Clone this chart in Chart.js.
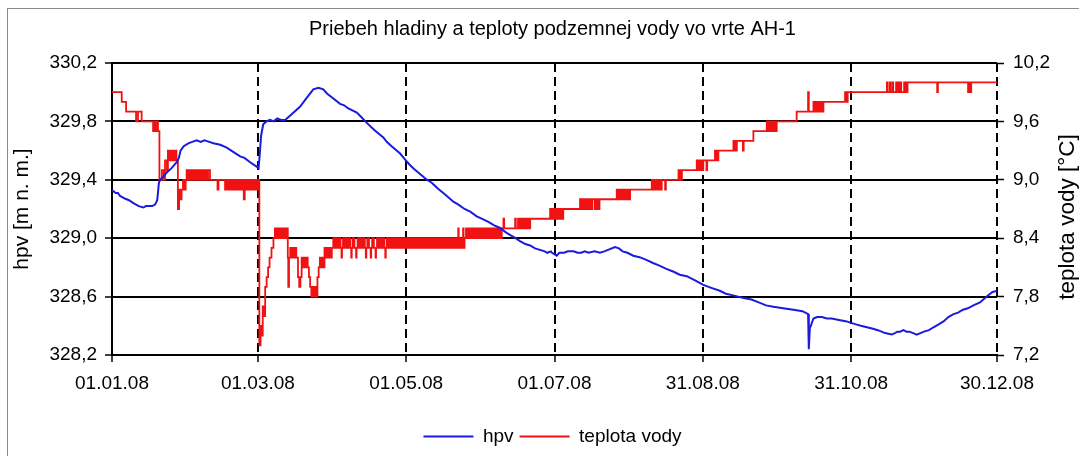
<!DOCTYPE html>
<html>
<head>
<meta charset="utf-8">
<script src="https://cdn.jsdelivr.net/npm/chart.js@4/dist/chart.umd.min.js"></script>
<style>
  html, body { margin: 0; padding: 0; background: #fff; }
  #wrap { position: relative; width: 1079px; height: 456px; overflow: hidden; }
  #frame { position: absolute; left: 7px; top: 8px; width: 1090px; height: 460px;
           border-left: 1px solid #8a8a8a; border-top: 1px solid #8a8a8a; }
  canvas { position: absolute; left: 0; top: 0; }
</style>
</head>
<body>
<div id="wrap">
  <div id="frame"></div>
  <canvas id="chart" width="1079" height="456"></canvas>
</div>
<script>
const FONT = "'Liberation Sans', Arial, sans-serif";

// texty
const chartTitle = 'Priebeh hladiny a teploty podzemnej vody vo vrte AH-1';
const leftTitle = 'hpv [m n. m.]';
const rightTitle = 'teplota vody [°C]';

// os x: dni od 01.01.08
const xTickDays = [0, 60, 121, 182, 243, 304, 364];
const xTickLabels = ['01.01.08', '01.03.08', '01.05.08', '01.07.08', '31.08.08', '31.10.08', '30.12.08'];
const hpvTicks = [328.2, 328.6, 329.0, 329.4, 329.8, 330.2];
const tempTicks = [7.2, 7.8, 8.4, 9.0, 9.6, 10.2];

// hladina podzemnej vody [den, m n. m.]
const hpvData = [
  [0, 329.33], [1.5, 329.31], [2.4, 329.31], [3.3, 329.29], [5.5, 329.27], [7, 329.26], [8.8, 329.24], [11, 329.22],
  [12.9, 329.21], [14, 329.22], [15, 329.22], [16.5, 329.22], [17.7, 329.23], [18.6, 329.26], [19.3, 329.38],
  [19.8, 329.40], [21, 329.42], [22.5, 329.45], [24.5, 329.48], [26.6, 329.52], [27.5, 329.55], [28.2, 329.60],
  [29.5, 329.63], [31.4, 329.65], [33, 329.66], [34.8, 329.67], [36.5, 329.66], [38, 329.67], [40, 329.66],
  [41.7, 329.65], [44.5, 329.64], [47.2, 329.62], [50, 329.59], [52.7, 329.56], [54.5, 329.55], [56.8, 329.52],
  [59.5, 329.49], [60.3, 329.48], [60.8, 329.58], [61.3, 329.70], [62.2, 329.78], [63.5, 329.80], [65, 329.81],
  [66.5, 329.80], [68, 329.82], [69.5, 329.81], [71.2, 329.81], [74, 329.85], [77.3, 329.90], [80, 329.96],
  [82.8, 330.02], [84.9, 330.03], [86.9, 330.02], [88.5, 329.99], [90, 329.97], [93.8, 329.92], [95.5, 329.91],
  [97, 329.89], [100.7, 329.86], [102.5, 329.83], [104.8, 329.79], [108, 329.74], [111.6, 329.69], [113, 329.66],
  [115, 329.63], [118.5, 329.58], [120.5, 329.54], [122.6, 329.50], [124.5, 329.47], [126.7, 329.44],
  [129.5, 329.40], [131.5, 329.38], [134, 329.34], [137, 329.30], [140.4, 329.25], [142.5, 329.23], [145, 329.20],
  [147.5, 329.18], [150, 329.15], [152.5, 329.13], [155, 329.11], [157, 329.09], [159.6, 329.07], [162, 329.04],
  [164, 329.02], [166, 329.00], [167.8, 328.98], [170, 328.96], [172, 328.95], [174, 328.93], [176, 328.92],
  [178, 328.91], [179, 328.90], [180.5, 328.91], [181, 328.90], [182.9, 328.88], [184, 328.90], [186, 328.90],
  [187.5, 328.91], [189.8, 328.91], [191.5, 328.90], [193, 328.90], [194.5, 328.91], [196, 328.90],
  [198.5, 328.91], [200.7, 328.90], [202.5, 328.91], [204, 328.92], [206.9, 328.94], [208.5, 328.93],
  [210, 328.91], [212, 328.90], [214.4, 328.88], [217, 328.87], [220, 328.85], [222.5, 328.83], [225.4, 328.81],
  [228, 328.79], [231, 328.77], [233.5, 328.75], [236.4, 328.74], [240, 328.71], [243.2, 328.68], [246.5, 328.66],
  [250, 328.64], [252.5, 328.62], [255, 328.61], [257.5, 328.60], [259.7, 328.59], [263, 328.58], [266, 328.56],
  [269, 328.54], [272, 328.53], [276, 328.52], [280.3, 328.51], [284, 328.50], [286.3, 328.48], [286.6, 328.24],
  [287, 328.38], [288.5, 328.45], [290, 328.46], [292, 328.46], [294, 328.45], [296, 328.45], [299, 328.44],
  [302.2, 328.43], [304, 328.42], [306, 328.41], [308, 328.40], [310.5, 328.39], [313, 328.38], [315, 328.37],
  [318, 328.35], [320.7, 328.34], [322, 328.35], [323, 328.36], [324.2, 328.36], [325.5, 328.37], [326.8, 328.36],
  [328, 328.36], [329.5, 328.35], [331, 328.34], [332.5, 328.35], [334, 328.36], [336, 328.37], [337.9, 328.39],
  [340, 328.41], [342, 328.43], [344, 328.46], [346.1, 328.48], [348, 328.49], [350, 328.51], [352, 328.52],
  [354.3, 328.54], [357, 328.56], [359.8, 328.60], [362, 328.63], [364, 328.64]
];

// teplota vody [den, °C] - schodovity zaznam po 0,1 °C
const tempData = [
  [0, 9.9], [4, 9.8], [5.8, 9.7], [9.9, 9.6], [10.7, 9.7], [12.2, 9.6],
  [16.9, 9.5], [17.4, 9.6], [17.9, 9.5], [18.4, 9.6], [18.9, 9.5],
  [19.5, 9.0], [20.5, 9.1], [21.3, 9.0], [21.8, 9.2], [22.6, 9.1], [23, 9.3], [23.5, 9.2], [24, 9.3], [24.5, 9.2],
  [25, 9.3], [25.5, 9.2], [26, 9.3], [26.5, 9.2],
  [27.1, 8.7], [27.6, 8.9], [28.1, 8.8], [28.6, 8.9], [29.2, 9.0], [29.8, 8.9], [30.3, 9.0],
  [30.7, 9.1], [31.3, 9.0], [31.8, 9.1], [32.4, 9.0], [32.9, 9.1], [33.5, 9.0], [34, 9.1], [34.6, 9.0], [35.1, 9.1],
  [35.7, 9.0], [36.2, 9.1], [36.8, 9.0], [37.3, 9.1], [37.9, 9.0], [38.4, 9.1], [39, 9.0], [39.5, 9.1], [40.3, 9.0],
  [43.4, 8.9], [43.8, 9.0],
  [46.5, 8.9], [47.1, 9.0], [47.6, 8.9], [48.2, 9.0], [48.7, 8.9], [49.3, 9.0], [49.8, 8.9], [50.4, 9.0],
  [50.9, 8.9], [51.5, 9.0], [52, 8.9], [52.6, 9.0], [53.1, 8.9], [53.7, 9.0], [54.2, 8.8], [54.6, 9.0],
  [55.2, 8.9], [55.8, 9.0], [56.3, 8.9], [56.9, 9.0], [57.4, 8.9], [58, 9.0], [58.5, 8.9], [59.1, 9.0],
  [59.6, 8.9], [60.1, 9.0],
  [60.6, 7.3], [61.1, 7.5], [61.5, 7.4], [62, 7.7], [62.5, 7.6], [63, 7.9], [63.6, 8.0], [64.2, 8.1],
  [64.8, 8.2], [65.6, 8.3], [66.4, 8.4],
  [67, 8.5], [67.5, 8.4], [68, 8.5], [68.5, 8.4], [69, 8.5], [69.5, 8.4], [70, 8.5], [70.5, 8.4], [71, 8.5],
  [71.5, 8.4], [72, 8.5],
  [72.3, 8.2], [72.5, 7.9], [72.8, 8.2], [73.3, 8.3], [73.8, 8.2], [74.3, 8.3], [74.8, 8.2], [75.3, 8.3], [75.8, 8.2],
  [76.5, 8.0], [77, 7.9], [77.5, 8.0], [78, 8.2], [78.5, 8.1], [79, 8.2], [79.5, 8.1], [80, 8.2], [80.5, 8.1],
  [81, 8.0], [81.5, 7.9], [82, 7.8], [82.5, 7.9], [83, 7.8], [83.5, 7.9], [84, 7.8], [84.5, 8.0],
  [85, 8.1], [85.5, 8.2], [86, 8.1], [86.5, 8.2], [87, 8.1],
  [87.4, 8.3], [87.9, 8.2], [88.4, 8.3], [88.9, 8.2], [89.4, 8.3], [89.9, 8.2], [90.4, 8.3],
  [91, 8.4], [91.7, 8.3], [92.3, 8.4], [93, 8.3], [93.6, 8.4], [94, 8.3], [94.4, 8.2], [94.6, 8.3], [95, 8.4],
  [95.7, 8.3], [96.3, 8.4], [97, 8.3], [97.6, 8.4], [98, 8.3], [98.4, 8.2], [98.6, 8.3], [99, 8.4], [99.7, 8.3],
  [100, 8.3], [100.4, 8.2], [100.6, 8.3], [101, 8.4], [101.7, 8.3], [102.3, 8.4], [103, 8.3], [103.6, 8.4],
  [104, 8.3], [104.4, 8.2], [104.6, 8.3], [105, 8.4], [105.7, 8.3], [106, 8.3], [106.4, 8.2], [106.6, 8.3],
  [107, 8.4], [107.7, 8.3], [108, 8.3], [108.4, 8.2], [108.6, 8.3], [109, 8.4], [109.7, 8.3], [110.3, 8.4],
  [111, 8.3], [111.6, 8.4], [112, 8.3], [112.4, 8.2], [112.6, 8.3], [113, 8.4], [113.7, 8.3], [114.3, 8.4],
  [115, 8.3], [115.6, 8.4], [116.3, 8.3], [117, 8.4], [117.7, 8.3], [118.3, 8.4], [119, 8.3], [119.6, 8.4],
  [120.3, 8.3], [121, 8.4], [121.7, 8.3], [122.3, 8.4], [123, 8.3], [123.6, 8.4], [124.3, 8.3], [125, 8.4],
  [125.7, 8.3], [126.3, 8.4], [127, 8.3], [127.6, 8.4], [128.3, 8.3], [129, 8.4], [129.7, 8.3], [130.3, 8.4],
  [131, 8.3], [131.6, 8.4], [132.3, 8.3], [133, 8.4], [133.7, 8.3], [134.3, 8.4], [135, 8.3], [135.6, 8.4],
  [136.3, 8.3], [137, 8.4], [137.7, 8.3], [138.3, 8.4], [139, 8.3], [139.6, 8.4], [140.3, 8.3], [141, 8.4],
  [141.7, 8.3], [142.4, 8.5], [142.6, 8.3], [143, 8.4], [143.7, 8.3], [144.4, 8.5], [144.6, 8.3], [145, 8.4],
  [145.6, 8.5], [146.3, 8.4], [147, 8.5], [147.7, 8.4], [148.3, 8.5], [149, 8.4], [149.6, 8.5], [150.3, 8.4],
  [151, 8.5], [151.7, 8.4], [152.3, 8.5], [153, 8.4], [153.6, 8.5], [154.3, 8.4], [155, 8.5], [155.7, 8.4],
  [156.3, 8.5], [157, 8.4], [157.6, 8.5], [158.3, 8.4], [159, 8.5], [159.7, 8.4], [160.3, 8.5],
  [161, 8.6], [161.3, 8.5], [165.8, 8.6], [166.1, 8.5],
  [167, 8.6], [167.7, 8.5], [168.3, 8.6], [169, 8.5], [169.6, 8.6], [170.3, 8.5], [171, 8.6], [171.5, 8.5], [172, 8.6],
  [180.2, 8.7], [180.9, 8.6], [181.5, 8.7], [182.2, 8.6], [182.8, 8.7], [183.5, 8.6], [184.2, 8.7], [184.9, 8.6],
  [185.6, 8.7],
  [192.5, 8.8], [193.2, 8.7], [193.8, 8.8], [194.5, 8.7], [195.2, 8.8], [195.9, 8.7], [196.6, 8.8], [197.3, 8.7],
  [197.6, 8.8], [198.6, 8.7], [199.2, 8.8], [199.9, 8.7], [200.5, 8.8],
  [207.6, 8.9], [208.3, 8.8], [208.9, 8.9], [209.6, 8.8], [210.3, 8.9], [211, 8.8], [211.7, 8.9], [212.4, 8.8],
  [213.1, 8.9],
  [222, 9.0], [222.7, 8.9], [223.3, 9.0], [224, 8.9], [224.7, 9.0], [225.4, 8.9], [226.1, 9.0],
  [227.5, 8.9], [227.8, 9.0],
  [233, 9.1], [233.7, 9.0], [234.4, 9.1],
  [240.5, 9.2], [241.2, 9.1], [241.9, 9.2], [242.6, 9.1], [243.2, 9.2], [244.5, 9.1], [244.8, 9.2],
  [248, 9.3], [248.7, 9.2], [249.4, 9.3],
  [255.6, 9.4], [256.3, 9.3], [257, 9.4], [259.5, 9.3], [259.8, 9.4],
  [263.8, 9.5],
  [269.3, 9.6], [270, 9.5], [270.7, 9.6], [271.4, 9.5], [272.1, 9.6], [272.8, 9.5], [273.4, 9.6],
  [281.6, 9.7], [286.3, 9.9], [286.6, 9.7],
  [288.5, 9.8], [289.2, 9.7], [289.9, 9.8], [290.6, 9.7], [291.3, 9.8], [292, 9.7], [292.6, 9.8],
  [301.5, 9.9], [302, 9.8], [302.6, 9.9],
  [318.7, 10.0], [319, 9.9], [319.9, 10.0], [320.2, 9.9], [321, 10.0], [321.3, 9.9],
  [322.5, 10.0], [323.2, 9.9], [323.9, 10.0], [324.6, 9.9], [325.8, 10.0], [326.5, 9.9], [327.2, 10.0],
  [339.4, 9.9], [339.7, 10.0], [352.1, 9.9], [352.4, 10.0], [353.1, 9.9], [353.4, 10.0], [364, 10.0]
];

const toPoints = arr => arr.map(([x, y]) => ({ x, y }));
const comma = v => Number(v).toFixed(1).replace('.', ',');

// nazvy osi (obe citane zdola nahor)
const axisTitles = {
  id: 'axisTitles',
  afterDraw(chart) {
    const { ctx, chartArea } = chart;
    const cy = (chartArea.top + chartArea.bottom) / 2;
    const draw = (text, x, y, size) => {
      ctx.save();
      ctx.fillStyle = '#000';
      ctx.textAlign = 'center';
      ctx.textBaseline = 'middle';
      ctx.font = size + 'px ' + FONT;
      ctx.translate(x, y);
      ctx.rotate(-Math.PI / 2);
      ctx.fillText(text, 0, 0);
      ctx.restore();
    };
    draw(leftTitle, 22, cy, 21);
    draw(rightTitle, 1068, cy + 8, 22.5);
  }
};

new Chart(document.getElementById('chart'), {
  type: 'line',
  data: {
    datasets: [
      {
        label: 'hpv',
        data: toPoints(hpvData),
        yAxisID: 'y',
        borderColor: '#1a1ae0',
        backgroundColor: '#1a1ae0',
        borderWidth: 2,
        pointRadius: 0,
        tension: 0
      },
      {
        label: 'teplota vody',
        data: toPoints(tempData),
        yAxisID: 'y2',
        borderColor: '#f01212',
        backgroundColor: '#f01212',
        borderWidth: 1.8,
        pointRadius: 0,
        stepped: true
      }
    ]
  },
  options: {
    responsive: false,
    animation: false,
    layout: { padding: { left: 26, right: 0, top: 0, bottom: 0 } },
    plugins: {
      title: {
        display: true,
        text: chartTitle,
        color: '#000',
        font: { family: FONT, size: 20, weight: 'normal' },
        padding: { top: 17, bottom: 22 }
      },
      legend: {
        position: 'bottom',
        labels: {
          color: '#000',
          font: { family: FONT, size: 19 },
          usePointStyle: true,
          pointStyle: 'line',
          pointStyleWidth: 50,
          padding: 6
        }
      },
      tooltip: { enabled: false }
    },
    scales: {
      x: {
        type: 'linear',
        min: 0,
        max: 364,
        afterBuildTicks: s => { s.ticks = xTickDays.map(v => ({ value: v })); },
        afterFit: s => { s.height = 66; },
        ticks: {
          color: '#000',
          font: { family: FONT, size: 19 },
          padding: 10,
          maxRotation: 0,
          autoSkip: false,
          callback: (v, i) => xTickLabels[i]
        },
        grid: { color: '#000', lineWidth: 2, tickLength: 7, tickColor: '#000', tickWidth: 1.5 },
        border: { display: true, color: '#000', width: 2, dash: [9, 5] }
      },
      y: {
        position: 'left',
        min: 328.2,
        max: 330.2,
        afterBuildTicks: s => { s.ticks = hpvTicks.map(v => ({ value: v })); },
        afterFit: s => { s.width = 86; },
        ticks: {
          color: '#000',
          font: { family: FONT, size: 19 },
          padding: 8,
          callback: v => comma(v)
        },
        grid: { color: '#000', lineWidth: 2, tickLength: 7, tickColor: '#000', tickWidth: 1.5 },
        border: { display: true, color: '#000', width: 2 }
      },
      y2: {
        position: 'right',
        min: 7.2,
        max: 10.2,
        afterBuildTicks: s => { s.ticks = tempTicks.map(v => ({ value: v })); },
        afterFit: s => { s.width = 82; },
        ticks: {
          color: '#000',
          font: { family: FONT, size: 19 },
          padding: 9,
          callback: v => comma(v)
        },
        grid: { drawOnChartArea: false, tickLength: 7, tickColor: '#000', tickWidth: 1.5 },
        border: { display: false }
      }
    }
  },
  plugins: [axisTitles]
});
</script>
</body>
</html>
